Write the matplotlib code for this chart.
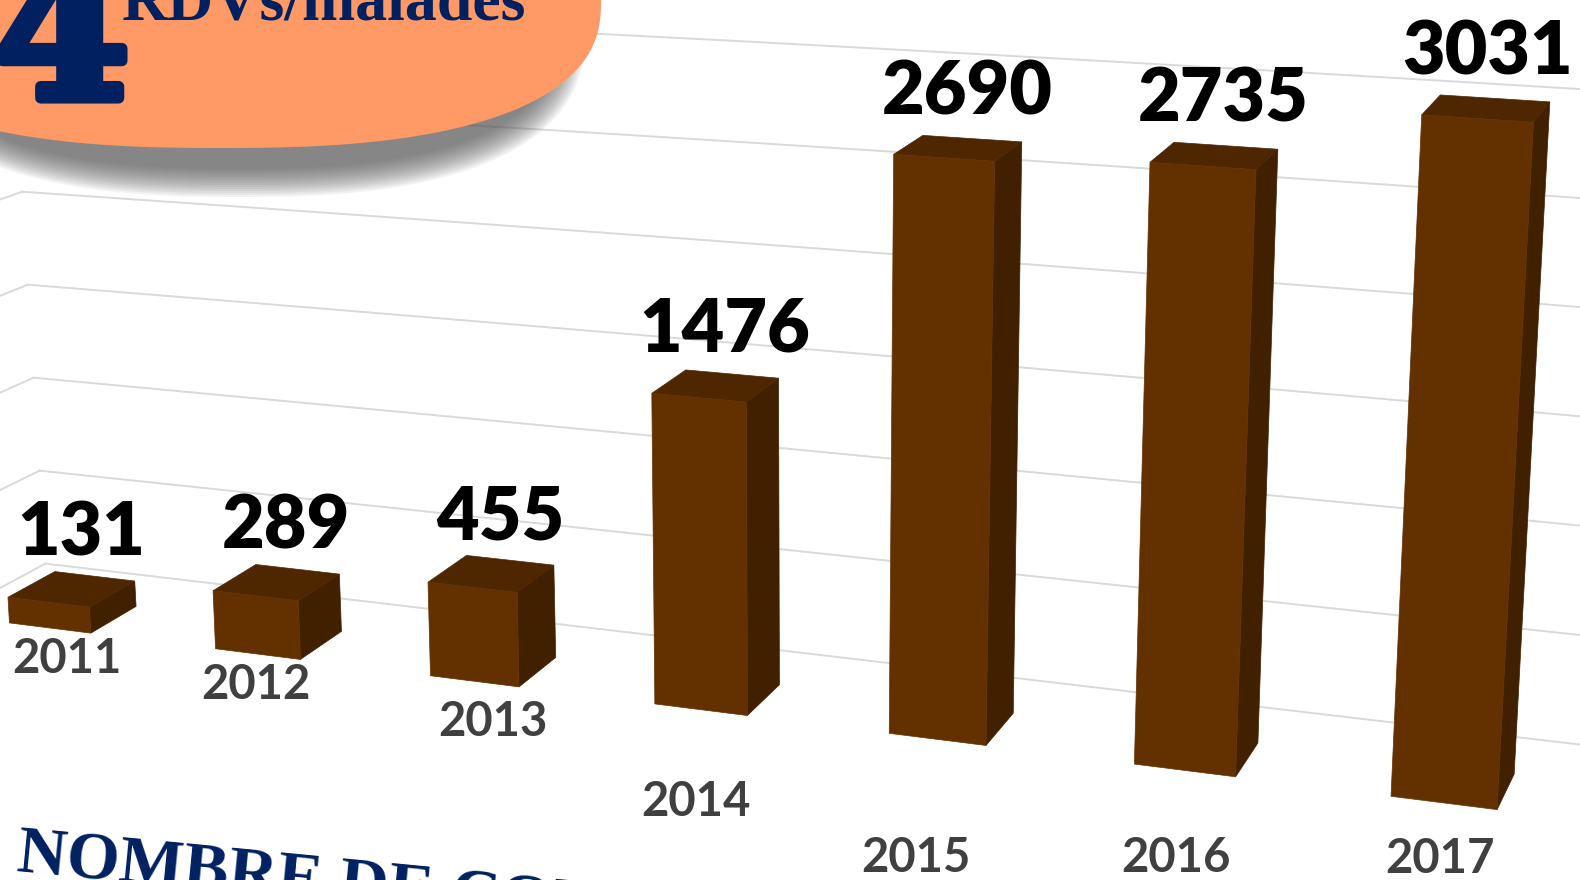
import matplotlib.pyplot as plt
import matplotlib.patheffects as pe
import numpy as np
from matplotlib.patches import Polygon

# data
years = ["2011", "2012", "2013", "2014", "2015", "2016", "2017"]
counts = [131, 289, 455, 1476, 2690, 2735, 3031]
grid_values = [0, 500, 1000, 1500, 2000, 2500, 3000, 3500]

W, H = 1580, 880
FRONT, TOP, SIDE = "#633100", "#4E2700", "#412000"
NAVY = "#002060"
HALF = 0.2          # half bar width, category units
WALL = 2.0          # back wall depth, in bar depths


def proj(X, Y, depth=0.0):
    """Perspective view of the 3D column chart: category X, value Y -> pixels."""
    X = np.asarray(X, float)
    Y = np.asarray(Y, float)
    px = (202.5 * X + 50) / (1 - 0.02064 * X)
    s = 0.197 + 0.0048 * X
    x = px + 7.45e-5 * (px - 786) * s * Y
    y = 628 + 0.1255 * (px - 50) - s * Y
    dx = 47 - 0.02 * x
    dy = -(12.5 + 0.0034 * x + 0.022 * y)
    return x + depth * dx, y + depth * dy


def pt(X, Y, depth=0.0):
    x, y = proj(X, Y, depth)
    return float(x), float(y)


def blob(cx, cy, a, b, n=2.5):
    t = np.linspace(0, 2 * np.pi, 400)
    c, s = np.cos(t), np.sin(t)
    x = cx + a * np.sign(c) * np.abs(c) ** (2 / n)
    y = cy + b * np.sign(s) * np.abs(s) ** (2 / n)
    return np.column_stack([x, y])


fig = plt.figure(figsize=(W / 100, H / 100), dpi=100)
ax = fig.add_axes([0, 0, 1, 1])
ax.set_xlim(0, W)
ax.set_ylim(H, 0)
ax.axis("off")

# gridlines: back wall + left side wall
xs = np.linspace(-0.5, 6.5, 120)
for g in grid_values:
    gx, gy = proj(xs, np.full_like(xs, g), WALL)
    ax.plot(gx, gy, color="#D9D9D9", lw=1.4, zorder=1)
    sx, sy = proj([-0.5, -0.5], [g, g], np.array([0.0, WALL]))
    ax.plot(sx, sy, color="#D9D9D9", lw=1.4, zorder=1)

# bars
for i, v in enumerate(counts):
    bl, tl = pt(i - HALF, 0), pt(i - HALF, v)
    br, tr = pt(i + HALF, 0), pt(i + HALF, v)
    tl_b, tr_b, br_b = pt(i - HALF, v, 1), pt(i + HALF, v, 1), pt(i + HALF, 0, 1)
    ax.add_patch(Polygon([tr, br, br_b, tr_b], closed=True, fc=SIDE, ec=SIDE, lw=0.5, zorder=3))
    ax.add_patch(Polygon([tl, tr, tr_b, tl_b], closed=True, fc=TOP, ec=TOP, lw=0.5, zorder=3))
    ax.add_patch(Polygon([bl, br, tr, tl], closed=True, fc=FRONT, ec=FRONT, lw=0.5, zorder=4))

    cx = (tl[0] + tr[0] + tl_b[0] + tr_b[0]) / 4
    cy = (tl[1] + tr[1] + tl_b[1] + tr_b[1]) / 4
    lx = min(cx + 9, W - 92)
    ax.text(lx, cy - 55, f"{v}", ha="center", va="center", fontsize=53,
            fontweight="heavy", family="Lato", color="black", zorder=6)

# category labels (placed like the original slide)
label_shift = [(17, 31), (-2, 31), (18, 41), (-5, 92), (-21, 119), (-9, 88), (-4, 56)]
for i, (yr, (ox, oy)) in enumerate(zip(years, label_shift)):
    bx, by = pt(i, 0)
    ax.text(bx + ox, by + oy, yr, ha="center", va="center", fontsize=34,
            fontweight="bold", family="Lato", color="#404040", zorder=6)

# orange title bubble with soft shadow
for grow in np.linspace(-16, 12, 15):
    ax.add_patch(Polygon(blob(238, 30, 335 + grow, 155 + grow), closed=True,
                         fc="#555555", ec="none", alpha=0.075, zorder=7))
ax.add_patch(Polygon(blob(221, 0, 380, 148), closed=True, fc="#FF9966", ec="none", zorder=8))

ax.text(130, 98, "4", ha="right", va="baseline", fontsize=140, fontweight="bold",
        family="DejaVu Serif", color=NAVY, zorder=9,
        path_effects=[pe.withStroke(linewidth=8, foreground=NAVY)])
ax.text(122, 20, "RDVs/malades", ha="left", va="baseline", fontsize=46,
        fontweight="bold", family="Liberation Serif", color=NAVY, zorder=9)

ax.text(16, 872, "NOMBRE DE CONSULTATIONS", ha="left", va="baseline", fontsize=49,
        fontweight="bold", family="Liberation Serif", color=NAVY, rotation=-5.5,
        rotation_mode="anchor", zorder=9)

fig.savefig("out.png", dpi=100)
